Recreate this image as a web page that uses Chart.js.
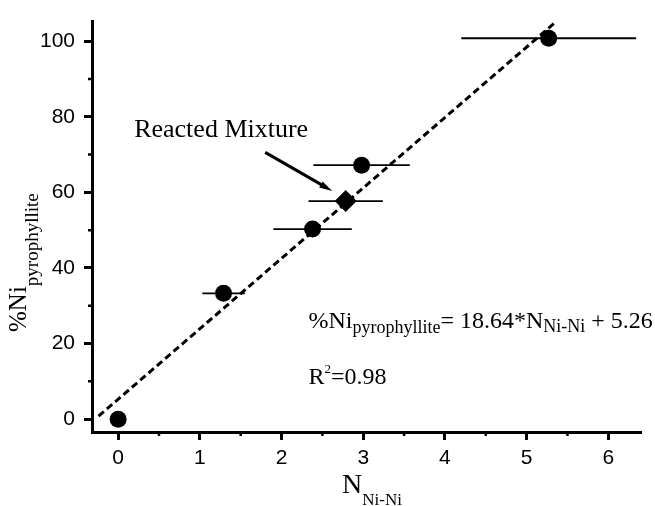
<!DOCTYPE html>
<html>
<head>
<meta charset="utf-8">
<script src="https://cdn.jsdelivr.net/npm/chart.js@4"></script>
<style>
  html, body { margin: 0; padding: 0; background: #fff; }
  canvas { display: block; }
</style>
</head>
<body>
<canvas id="chart" width="655" height="506"></canvas>
<script>
// samples (circles): N(Ni-Ni) vs %Ni pyrophyllite, with horizontal error on N
const sampleX = [0, 1.29, 2.38, 2.98, 5.27];
const sampleY = [0, 33.3, 50.3, 67.2, 100.8];
const sampleXErr = [0, 0.26, 0.48, 0.59, 1.07];

// reacted mixture (diamond)
const mixX = [2.785];
const mixY = [57.7];
const mixXErr = [0.455];

// linear fit %Ni = 18.64*N + 5.26, endpoints as drawn
const fitX = [-0.24, 5.34];
const fitY = [0.8, 104.8];

const xTicks = [0, 1, 2, 3, 4, 5, 6];
const yTicks = [0, 20, 40, 60, 80, 100];
const xMinorTicks = [0.5, 1.5, 2.5, 3.5, 4.5, 5.5];
const yMinorTicks = [10, 30, 50, 70, 90];

const serif = "'Liberation Serif', 'Times New Roman', serif";
const sans = "'Liberation Sans', Arial, sans-serif";

function toPoints(xs, ys) {
  return xs.map((x, i) => ({ x: x, y: ys[i] }));
}

// draws runs of text with different sizes / baseline shifts, returns end x
function drawRuns(ctx, x, y, runs) {
  runs.forEach((r) => {
    ctx.font = r.size + "px " + serif;
    ctx.fillText(r.t, x, y + (r.dy || 0));
    x += ctx.measureText(r.t).width;
  });
  return x;
}

const extras = {
  id: "extras",
  beforeDatasetsDraw(chart) {
    const ctx = chart.ctx;
    const xs = chart.scales.x;
    const ys = chart.scales.y;
    ctx.save();
    ctx.strokeStyle = "#000";
    ctx.lineWidth = 1.8;
    const bars = (X, Y, E) => {
      X.forEach((x, i) => {
        if (!E[i]) return;
        const py = ys.getPixelForValue(Y[i]);
        ctx.beginPath();
        ctx.moveTo(xs.getPixelForValue(x - E[i]), py);
        ctx.lineTo(xs.getPixelForValue(x + E[i]), py);
        ctx.stroke();
      });
    };
    bars(sampleX, sampleY, sampleXErr);
    bars(mixX, mixY, mixXErr);
    ctx.restore();
  },
  afterDraw(chart) {
    const ctx = chart.ctx;
    const xs = chart.scales.x;
    const ys = chart.scales.y;
    const area = chart.chartArea;
    ctx.save();
    ctx.fillStyle = "#000";
    ctx.strokeStyle = "#000";

    // minor ticks
    ctx.lineWidth = 2.5;
    ctx.beginPath();
    xMinorTicks.forEach((v) => {
      const px = xs.getPixelForValue(v);
      ctx.moveTo(px, area.bottom);
      ctx.lineTo(px, area.bottom + 4);
    });
    yMinorTicks.forEach((v) => {
      const py = ys.getPixelForValue(v);
      ctx.moveTo(area.left, py);
      ctx.lineTo(area.left - 4, py);
    });
    ctx.stroke();

    ctx.textBaseline = "alphabetic";
    ctx.textAlign = "left";

    // x title
    drawRuns(ctx, 342, 493, [
      { t: "N", size: 28 },
      { t: "Ni-Ni", size: 17, dy: 12 }
    ]);

    // y title (rotated)
    ctx.save();
    ctx.translate(26, 332);
    ctx.rotate(-Math.PI / 2);
    drawRuns(ctx, 0, 0, [
      { t: "%Ni", size: 25 },
      { t: "pyrophyllite", size: 19, dy: 12 }
    ]);
    ctx.restore();

    // label + arrow
    drawRuns(ctx, xs.getPixelForValue(0.196), ys.getPixelForValue(74.7), [
      { t: "Reacted Mixture", size: 26 }
    ]);
    const ax0 = xs.getPixelForValue(1.80), ay0 = ys.getPixelForValue(70.6);
    const ax1 = xs.getPixelForValue(2.62), ay1 = ys.getPixelForValue(60.4);
    const ang = Math.atan2(ay1 - ay0, ax1 - ax0);
    ctx.lineWidth = 3;
    ctx.beginPath();
    ctx.moveTo(ax0, ay0);
    ctx.lineTo(ax1 - 10 * Math.cos(ang), ay1 - 10 * Math.sin(ang));
    ctx.stroke();
    ctx.beginPath();
    ctx.moveTo(ax1, ay1);
    ctx.lineTo(ax1 - 13 * Math.cos(ang) + 3.5 * Math.sin(ang), ay1 - 13 * Math.sin(ang) - 3.5 * Math.cos(ang));
    ctx.lineTo(ax1 - 13 * Math.cos(ang) - 3.5 * Math.sin(ang), ay1 - 13 * Math.sin(ang) + 3.5 * Math.cos(ang));
    ctx.closePath();
    ctx.fill();

    // fit equation
    drawRuns(ctx, xs.getPixelForValue(2.33), ys.getPixelForValue(24.0), [
      { t: "%Ni", size: 24 },
      { t: "pyrophyllite", size: 18, dy: 5 },
      { t: "= 18.64*N", size: 24 },
      { t: "Ni-Ni", size: 18, dy: 4 },
      { t: " + 5.26", size: 24 }
    ]);
    drawRuns(ctx, xs.getPixelForValue(2.33), ys.getPixelForValue(9.4), [
      { t: "R", size: 24 },
      { t: "2", size: 13, dy: -11 },
      { t: "=0.98", size: 24 }
    ]);
    ctx.restore();
  }
};

const axisCommon = {
  grid: {
    display: true,
    drawOnChartArea: false,
    drawTicks: true,
    tickLength: 8,
    tickWidth: 3,
    tickColor: "#000"
  },
  border: { display: true, width: 3, color: "#000" },
  title: { display: false }
};

new Chart(document.getElementById("chart").getContext("2d"), {
  type: "scatter",
  data: {
    datasets: [
      {
        label: "fit",
        type: "line",
        data: toPoints(fitX, fitY),
        borderColor: "#000",
        borderWidth: 3,
        borderDash: [7, 4],
        pointRadius: 0,
        fill: false,
        order: 3
      },
      {
        label: "samples",
        data: toPoints(sampleX, sampleY),
        pointStyle: "circle",
        pointRadius: 8.5,
        backgroundColor: "#000",
        borderWidth: 0,
        order: 1
      },
      {
        label: "Reacted Mixture",
        data: toPoints(mixX, mixY),
        pointStyle: "rectRot",
        pointRadius: 11,
        backgroundColor: "#000",
        borderWidth: 0,
        order: 2
      }
    ]
  },
  options: {
    responsive: false,
    animation: false,
    devicePixelRatio: 1,
    layout: { padding: { top: 15, right: 14, left: 0, bottom: 0 } },
    plugins: {
      legend: { display: false },
      tooltip: { enabled: false }
    },
    scales: {
      x: {
        ...axisCommon,
        type: "linear",
        position: "bottom",
        min: -0.32,
        max: 6.4,
        afterBuildTicks: (scale) => {
          scale.ticks = xTicks.map((v) => ({ value: v }));
        },
        afterFit: (scale) => {
          scale.height = 74;
        },
        ticks: {
          color: "#000",
          padding: 6,
          maxRotation: 0,
          font: { family: sans, size: 21 }
        }
      },
      y: {
        ...axisCommon,
        type: "linear",
        position: "left",
        min: -3.4,
        max: 105.2,
        afterBuildTicks: (scale) => {
          scale.ticks = yTicks.map((v) => ({ value: v }));
        },
        afterFit: (scale) => {
          scale.width = 92;
        },
        ticks: {
          color: "#000",
          padding: 9,
          font: { family: sans, size: 21 }
        }
      }
    }
  },
  plugins: [extras]
});
</script>
</body>
</html>
